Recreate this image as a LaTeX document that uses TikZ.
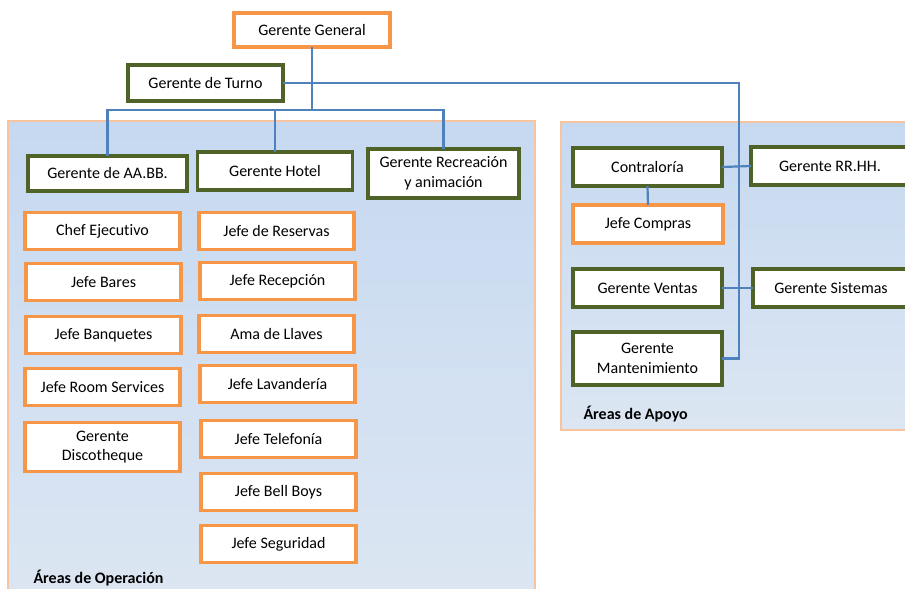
\documentclass[tikz,border=0pt]{standalone}
\usepackage{fontspec}
\setmainfont[Ligatures=NoCommon]{Carlito}
\definecolor{boxorange}{HTML}{F79646}
\definecolor{boxgreen}{HTML}{4F6228}
\definecolor{linkblue}{HTML}{4F81BD}
\definecolor{panelborder}{HTML}{F8C4A0}
\definecolor{paneltop}{HTML}{C6D9F1}
\definecolor{panelbottom}{HTML}{DCE6F2}
\tikzset{
  unit/.style={fill=white, line width=3.5pt, inner sep=0pt, outer sep=0pt,
    align=center, font=\fontsize{16}{19.5}\selectfont},
  mgr/.style={unit, draw=boxgreen},
  chief/.style={unit, draw=boxorange},
  link/.style={draw=linkblue, line width=2.2pt},
  panel/.style={draw=panelborder, line width=2.5pt, top color=paneltop, bottom color=panelbottom},
  arealabel/.style={anchor=west, font=\fontsize{16}{19}\selectfont\bfseries}
}
\begin{document}
\begin{tikzpicture}[x=1pt, y=-1pt]
\path[use as bounding box, clip] (0,0) rectangle (905,589);

% area panels
\path[panel] (8,121) rectangle (535,600);
\path[panel] (561,122) rectangle (915,430);

% management nodes
\node[chief, minimum width=156pt, minimum height=34pt] (gg) at (312,30) {Gerente General};
\node[mgr, minimum width=155pt, minimum height=36pt] (gdt) at (205.5,83) {Gerente de Turno};
\node[mgr, minimum width=159pt, minimum height=35pt] (aabb) at (107.5,173.5) {Gerente de AA.BB.};
\node[mgr, minimum width=155pt, minimum height=38pt] (hotel) at (275,171) {Gerente Hotel};
\node[mgr, minimum width=151pt, minimum height=49pt] (rec) at (443.5,173.5) {Gerente Recreación\\y animación};

% food and beverage column
\node[chief, minimum width=155pt, minimum height=37pt] (chef) at (102.5,231) {Chef Ejecutivo};
\node[chief, minimum width=155pt, minimum height=37pt] (bares) at (103.5,282) {Jefe Bares};
\node[chief, minimum width=155pt, minimum height=37pt] (banq) at (103.5,335) {Jefe Banquetes};
\node[chief, minimum width=155pt, minimum height=37pt] (room) at (102.5,387) {Jefe Room Services};
\node[chief, minimum width=155pt, minimum height=49pt] (disco) at (102.5,447) {Gerente\\Discotheque};

% hotel column
\node[chief, minimum width=155pt, minimum height=37pt] (reserv) at (276.5,231) {Jefe de Reservas};
\node[chief, minimum width=155pt, minimum height=37pt] (recep) at (277.5,281) {Jefe Recepción};
\node[chief, minimum width=155pt, minimum height=37pt] (llaves) at (276.5,334) {Ama de Llaves};
\node[chief, minimum width=155pt, minimum height=37pt] (lavan) at (277.5,384) {Jefe Lavandería};
\node[chief, minimum width=155pt, minimum height=37pt] (telef) at (278.5,439) {Jefe Telefonía};
\node[chief, minimum width=155pt, minimum height=37pt] (bell) at (278.5,492) {Jefe Bell Boys};
\node[chief, minimum width=155pt, minimum height=37pt] (segur) at (278.5,544) {Jefe Seguridad};

% support area
\node[mgr, minimum width=149pt, minimum height=38pt] (contra) at (647.5,167) {Contraloría};
\node[mgr, minimum width=158pt, minimum height=38pt] (rrhh) at (830,166) {Gerente RR.HH.};
\node[chief, minimum width=150pt, minimum height=38pt] (compras) at (648,224) {Jefe Compras};
\node[mgr, minimum width=149pt, minimum height=38pt] (ventas) at (647.5,288) {Gerente Ventas};
\node[mgr, minimum width=156pt, minimum height=38pt] (sist) at (831,288) {Gerente Sistemas};
\node[mgr, minimum width=149pt, minimum height=53pt] (mant) at (647.5,358.5) {Gerente\\Mantenimiento};

% connector junctions
\coordinate (bus) at (312,110);
\coordinate (spine) at (739,83);

% connectors
\draw[link] (gg.south) -- (bus);
\draw[link] (aabb.north) |- (bus) -| (rec.north);
\draw[link] (hotel.north) -- (hotel.north |- bus);
\draw[link] (gdt.east) -- (spine) |- (mant.east);
\draw[link] (contra.east) -- (rrhh.west);
\draw[link] (ventas.east) -- (sist.west);
\draw[link] (contra.south) -- (compras.north);

% area labels
\node[arealabel] (opLabel) at (30,578) {Áreas de Operación};
\node[arealabel] (apLabel) at (580,414) {Áreas de Apoyo};
\end{tikzpicture}
\end{document}
